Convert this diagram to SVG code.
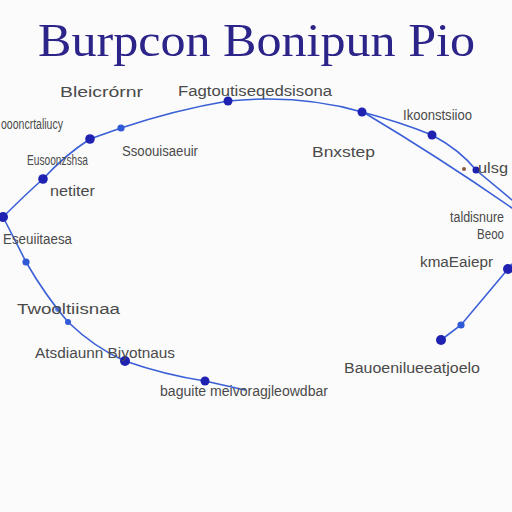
<svg xmlns="http://www.w3.org/2000/svg" width="512" height="512" viewBox="0 0 512 512">
<style>
.t{font-family:"Liberation Serif","DejaVu Serif",serif;font-size:47px;fill:#2c2488}
.l{font-family:"Liberation Sans","DejaVu Sans",sans-serif;font-size:14px;fill:#4a4a4a}
.e{fill:none;stroke:#3a5fd6;stroke-width:1.6;stroke-linecap:round}
.n{fill:#1f22b0}
.s{fill:#3059d8}
</style>
<rect width="512" height="512" fill="#fbfbfb"/>
<text class="t" x="38" y="56" textLength="437" lengthAdjust="spacingAndGlyphs">Burpcon Bonipun Pio</text>
<g id="connectors">
<path class="e" d="M3,217 Q25,195 43,179 Q65,155 90,139 L121,128 Q175,110 228,101 Q300,94 362,112 Q400,122 432,135 Q460,150 476,170 L512,200"/>
<path class="e" d="M363,112 Q440,158 512,208"/>
<path class="e" d="M3,217 Q15,240 26,262 Q45,295 68,322 Q95,348 125,361 Q165,375 205,381 L245,390"/>
<path class="e" d="M441,340 L461,325 L508,269 L512,264"/>
</g>
<g id="node1"><circle class="n" cx="3" cy="217" r="5"/></g>
<g id="node2"><circle class="n" cx="43" cy="179" r="4.8"/></g>
<g id="node3"><circle class="n" cx="90" cy="139" r="4.8"/></g>
<g id="node4"><circle class="s" cx="121" cy="128" r="3.6"/></g>
<g id="node5"><circle class="n" cx="228" cy="101" r="4.5"/></g>
<g id="node6"><circle class="n" cx="362" cy="112" r="4.5"/></g>
<g id="node7"><circle class="n" cx="432" cy="135" r="4.5"/></g>
<g id="node8"><circle class="n" cx="476" cy="170" r="3.5"/><circle cx="464" cy="169" r="2" fill="#8a5a3a"/></g>
<g id="node9"><circle class="s" cx="26" cy="262" r="3.6"/></g>
<g id="node10"><circle class="s" cx="58" cy="309" r="3" opacity="0.7"/></g>
<g id="node11"><circle class="s" cx="68" cy="322" r="3"/></g>
<g id="node12"><circle class="n" cx="125" cy="361" r="5"/></g>
<g id="node13"><circle class="n" cx="205" cy="381" r="4.5"/></g>
<g id="node14"><circle class="n" cx="441" cy="340" r="5"/></g>
<g id="node15"><circle class="s" cx="461" cy="325" r="3.6"/></g>
<g id="node16"><circle class="n" cx="508" cy="269" r="5"/></g>
<g id="labels">
<text class="l" x="60" y="97" textLength="83" lengthAdjust="spacingAndGlyphs">Bleicrórnr</text>
<text class="l" x="178" y="96" textLength="154" lengthAdjust="spacingAndGlyphs">Fagtoutiseqedsisona</text>
<text class="l" x="1" y="129" textLength="62" lengthAdjust="spacingAndGlyphs">oooncrtaliucy</text>
<text class="l" x="122" y="156" textLength="76" lengthAdjust="spacingAndGlyphs">Ssoouisaeuir</text>
<text class="l" x="27" y="165" textLength="61" lengthAdjust="spacingAndGlyphs">Eusoonzshsa</text>
<text class="l" x="312" y="157" textLength="63" lengthAdjust="spacingAndGlyphs">Bnxstep</text>
<text class="l" x="403" y="120" textLength="69" lengthAdjust="spacingAndGlyphs">Ikoonstsiioo</text>
<text class="l" x="478" y="173" textLength="30" lengthAdjust="spacingAndGlyphs">ulsg</text>
<text class="l" x="50" y="196" textLength="45" lengthAdjust="spacingAndGlyphs">netiter</text>
<text class="l" x="450" y="222" textLength="54" lengthAdjust="spacingAndGlyphs">taldisnure</text>
<text class="l" x="477" y="239" textLength="27" lengthAdjust="spacingAndGlyphs">Beoo</text>
<text class="l" x="3" y="244" textLength="69" lengthAdjust="spacingAndGlyphs">Eseuiitaesa</text>
<text class="l" x="420" y="267" textLength="73" lengthAdjust="spacingAndGlyphs">kmaEaiepr</text>
<text class="l" x="17" y="314" textLength="103" lengthAdjust="spacingAndGlyphs">Twooltiisnaa</text>
<text class="l" x="35" y="358" textLength="140" lengthAdjust="spacingAndGlyphs">Atsdiaunn Biyotnaus</text>
<text class="l" x="160" y="396" textLength="168" lengthAdjust="spacingAndGlyphs">baguite meivoragjleowdbar</text>
<text class="l" x="344" y="373" textLength="136" lengthAdjust="spacingAndGlyphs">Bauoenilueeatjoelo</text>
</g>
</svg>
